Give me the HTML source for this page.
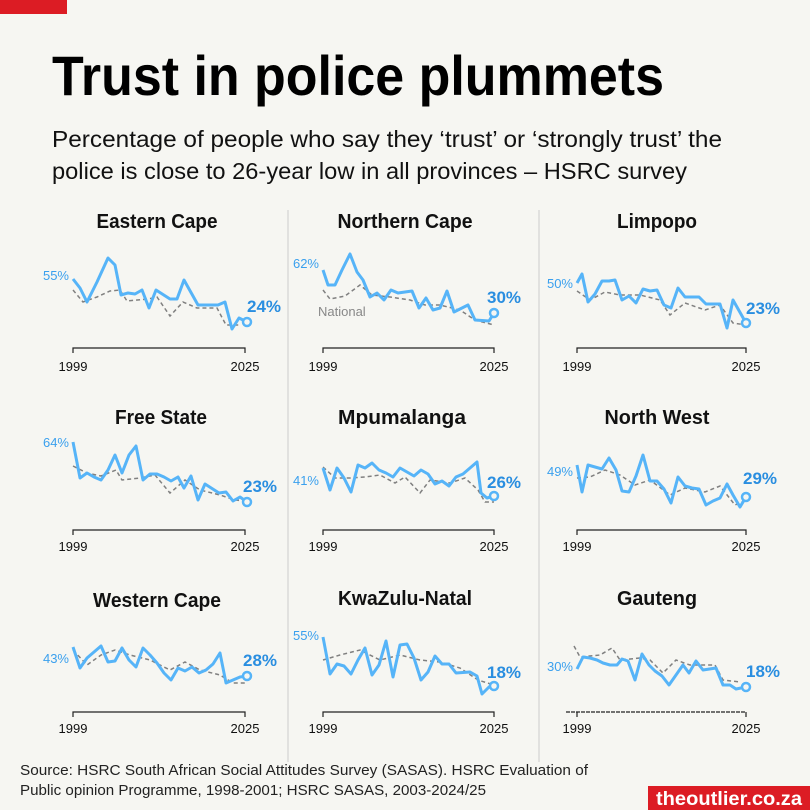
<!DOCTYPE html>
<html><head><meta charset="utf-8"><style>
html,body{margin:0;padding:0;background:#f6f6f2}
svg{display:block}
text{font-family:"Liberation Sans Narrow","Liberation Sans",sans-serif}
.t{font-weight:bold;font-size:20px;fill:#111;text-anchor:middle}
.y{font-size:13px;fill:#111;text-anchor:middle}
.s{font-size:13px;fill:#3aa0ee;text-anchor:end}
.e{font-size:17px;font-weight:bold;fill:#2a8ee0}
.b{fill:none;stroke:#56b4f8;stroke-width:3;stroke-linejoin:round}
.d{fill:none;stroke:#808080;stroke-width:1.5;stroke-dasharray:4 3}
.ax{stroke:#222;stroke-width:1.2;fill:none}
</style></head><body>
<svg width="810" height="810" xmlns="http://www.w3.org/2000/svg">
<rect width="810" height="810" fill="#f6f6f2"/>
<rect x="0" y="0" width="67" height="14" fill="#dc1c24"/>
<text x="52" y="95" font-size="56" font-weight="bold" textLength="612" lengthAdjust="spacingAndGlyphs" fill="#000">Trust in police plummets</text>
<text x="52" y="147" font-size="23" textLength="670" lengthAdjust="spacingAndGlyphs" fill="#111">Percentage of people who say they ‘trust’ or ‘strongly trust’ the</text>
<text x="52" y="179" font-size="23" textLength="635" lengthAdjust="spacingAndGlyphs" fill="#111">police is close to 26-year low in all provinces – HSRC survey</text>
<line x1="288" y1="210" x2="288" y2="762" stroke="#ccc"/>
<line x1="539" y1="210" x2="539" y2="762" stroke="#ccc"/>

<text class="t" x="157" y="228" textLength="121" lengthAdjust="spacingAndGlyphs">Eastern Cape</text>
<text class="t" x="405" y="228" textLength="135" lengthAdjust="spacingAndGlyphs">Northern Cape</text>
<text class="t" x="657" y="228" textLength="80" lengthAdjust="spacingAndGlyphs">Limpopo</text>
<text class="t" x="161" y="424" textLength="92" lengthAdjust="spacingAndGlyphs">Free State</text>
<text class="t" x="402" y="424" textLength="128" lengthAdjust="spacingAndGlyphs">Mpumalanga</text>
<text class="t" x="657" y="424" textLength="105" lengthAdjust="spacingAndGlyphs">North West</text>
<text class="t" x="157" y="607" textLength="128" lengthAdjust="spacingAndGlyphs">Western Cape</text>
<text class="t" x="405" y="605" textLength="134" lengthAdjust="spacingAndGlyphs">KwaZulu-Natal</text>
<text class="t" x="657" y="605" textLength="80" lengthAdjust="spacingAndGlyphs">Gauteng</text>

<path class="ax" d="M73,353V348H245V353 M323,353V348H494V353 M577,353V348H746V353"/>
<path class="ax" d="M73,535V530H245V535 M323,535V530H494V535 M577,535V530H746V535"/>
<path class="ax" d="M73,717V712H245V717 M323,717V712H494V717"/>
<path d="M566,712H746" stroke="#222" stroke-width="1.2" stroke-dasharray="4 1"/>
<path class="ax" d="M577,717V712 M746,717V712"/>
<g class="y">
<text x="73" y="371">1999</text><text x="245" y="371">2025</text>
<text x="323" y="371">1999</text><text x="494" y="371">2025</text>
<text x="577" y="371">1999</text><text x="746" y="371">2025</text>
<text x="73" y="551">1999</text><text x="245" y="551">2025</text>
<text x="323" y="551">1999</text><text x="494" y="551">2025</text>
<text x="577" y="551">1999</text><text x="746" y="551">2025</text>
<text x="73" y="733">1999</text><text x="245" y="733">2025</text>
<text x="323" y="733">1999</text><text x="494" y="733">2025</text>
<text x="577" y="733">1999</text><text x="746" y="733">2025</text>
</g>

<polyline class="d" points="73,290 83,302 97,297 110,291 120,290 127,301 148,299 157,297 170,316 183,302 197,308 217,308 226,325 239,325"/>
<polyline class="d" points="323,290 330,299 345,296 360,285 372,295 390,297 410,300 425,305 440,305 460,310 475,320 494,325"/>
<polyline class="d" points="577,291 590,300 605,292 620,295 640,295 660,300 670,315 685,303 705,310 720,305 733,323 746,325"/>
<polyline class="d" points="73,466 87,473 101,476 116,470 122,480 140,478 155,475 170,493 185,480 200,490 220,495 235,500 247,501"/>
<polyline class="d" points="323,467 335,478 350,478 365,477 380,475 395,483 405,477 420,493 430,480 450,483 465,478 478,490 485,502 494,502"/>
<polyline class="d" points="577,478 590,477 605,470 620,475 635,485 650,480 670,495 685,488 705,492 720,486 735,505 746,500"/>
<polyline class="d" points="73,650 87,665 101,655 115,650 130,655 150,660 170,670 185,662 200,670 220,675 233,683 247,683"/>
<polyline class="d" points="323,660 340,655 360,650 380,660 400,655 420,660 440,662 460,668 478,680 494,685"/>
<polyline class="d" points="574,646 580,657 600,655 612,648 620,660 640,658 650,660 663,673 676,660 690,665 700,665 715,665 723,680 740,682"/>

<polyline class="b" points="73,279 80,288 87,302 97,282 108,258 115,265 121,295 128,293 135,294 142,290 149,308 156,290 170,299 177,299 184,280 198,305 218,305 225,302 232,329 239,318 247,322"/>
<polyline class="b" points="323,270 328,285 335,285 342,270 350,254 357,272 363,280 370,297 377,293 384,300 391,290 398,293 412,291 419,308 426,298 433,310 440,308 447,291 454,312 468,305 475,320 489,321 494,313"/>
<polyline class="b" points="577,283 582,274 588,302 595,294 602,281 609,281 615,280 622,300 629,296 636,303 643,289 650,291 657,290 664,305 671,308 678,288 685,297 699,297 706,304 720,304 727,328 733,300 746,323"/>
<polyline class="b" points="73,442 80,478 87,473 94,477 101,480 108,470 115,455 122,473 129,455 136,446 143,480 150,474 157,474 164,477 171,481 178,477 184,488 191,476 198,500 205,484 219,493 226,492 233,501 240,497 247,502"/>
<polyline class="b" points="323,468 330,490 337,468 344,478 351,492 358,465 365,468 372,463 379,470 386,473 393,477 400,468 407,472 414,476 421,470 428,474 435,484 442,481 449,486 456,477 463,474 470,468 477,462 481,493 487,498 494,496"/>
<polyline class="b" points="577,465 582,492 588,465 595,467 602,469 609,458 616,470 622,491 629,492 636,476 643,455 650,481 657,481 664,489 671,503 678,477 685,486 692,488 699,489 706,505 713,501 720,498 727,484 733,495 740,507 746,497"/>
<polyline class="b" points="73,647 80,668 87,658 94,652 101,646 108,662 115,661 122,648 129,660 136,667 143,648 150,655 157,663 164,673 171,680 178,668 185,671 192,667 199,673 206,670 213,664 220,653 226,683 233,680 240,677 247,676"/>
<polyline class="b" points="323,637 330,674 337,664 344,666 351,674 358,660 365,648 372,675 379,665 386,641 393,677 400,645 407,644 414,658 421,680 428,672 435,656 442,664 449,664 456,673 470,672 477,676 482,694 489,687 494,686"/>
<polyline class="b" points="577,669 583,657 590,658 597,660 603,663 610,665 617,665 622,659 628,661 635,680 642,654 649,665 655,671 662,676 669,685 676,675 683,665 689,673 696,661 703,670 716,668 723,685 730,685 736,689 746,687"/>

<g fill="#f6f6f2" stroke="#56b4f8" stroke-width="2.5">
<circle cx="247" cy="322" r="4"/><circle cx="494" cy="313" r="4"/><circle cx="746" cy="323" r="4"/>
<circle cx="247" cy="502" r="4"/><circle cx="494" cy="496" r="4"/><circle cx="746" cy="497" r="4"/>
<circle cx="247" cy="676" r="4"/><circle cx="494" cy="686" r="4"/><circle cx="746" cy="687" r="4"/>
</g>

<g class="s">
<text x="69" y="280">55%</text><text x="319" y="268">62%</text><text x="573" y="288">50%</text>
<text x="69" y="447">64%</text><text x="319" y="485">41%</text><text x="573" y="476">49%</text>
<text x="69" y="663">43%</text><text x="319" y="640">55%</text><text x="573" y="671">30%</text>
</g>
<text x="318" y="316" font-size="13" fill="#888">National</text>
<g class="e">
<text x="247" y="312">24%</text><text x="487" y="303">30%</text><text x="746" y="314">23%</text>
<text x="243" y="492">23%</text><text x="487" y="488">26%</text><text x="743" y="484">29%</text>
<text x="243" y="666">28%</text><text x="487" y="678">18%</text><text x="746" y="677">18%</text>
</g>

<text x="20" y="775" font-size="14.5" fill="#222" style="font-family:'Liberation Sans',sans-serif" textLength="568" lengthAdjust="spacingAndGlyphs">Source: HSRC South African Social Attitudes Survey (SASAS). HSRC Evaluation of</text>
<text x="20" y="795" font-size="14.5" fill="#222" style="font-family:'Liberation Sans',sans-serif" textLength="466" lengthAdjust="spacingAndGlyphs">Public opinion Programme, 1998-2001; HSRC SASAS, 2003-2024/25</text>
<rect x="648" y="786" width="162" height="24" fill="#dc1c24"/>
<text x="729" y="805" font-size="19" font-weight="bold" fill="#fff" text-anchor="middle" style="font-family:'Liberation Sans',sans-serif" textLength="146" lengthAdjust="spacingAndGlyphs">theoutlier.co.za</text>
</svg>
</body></html>
